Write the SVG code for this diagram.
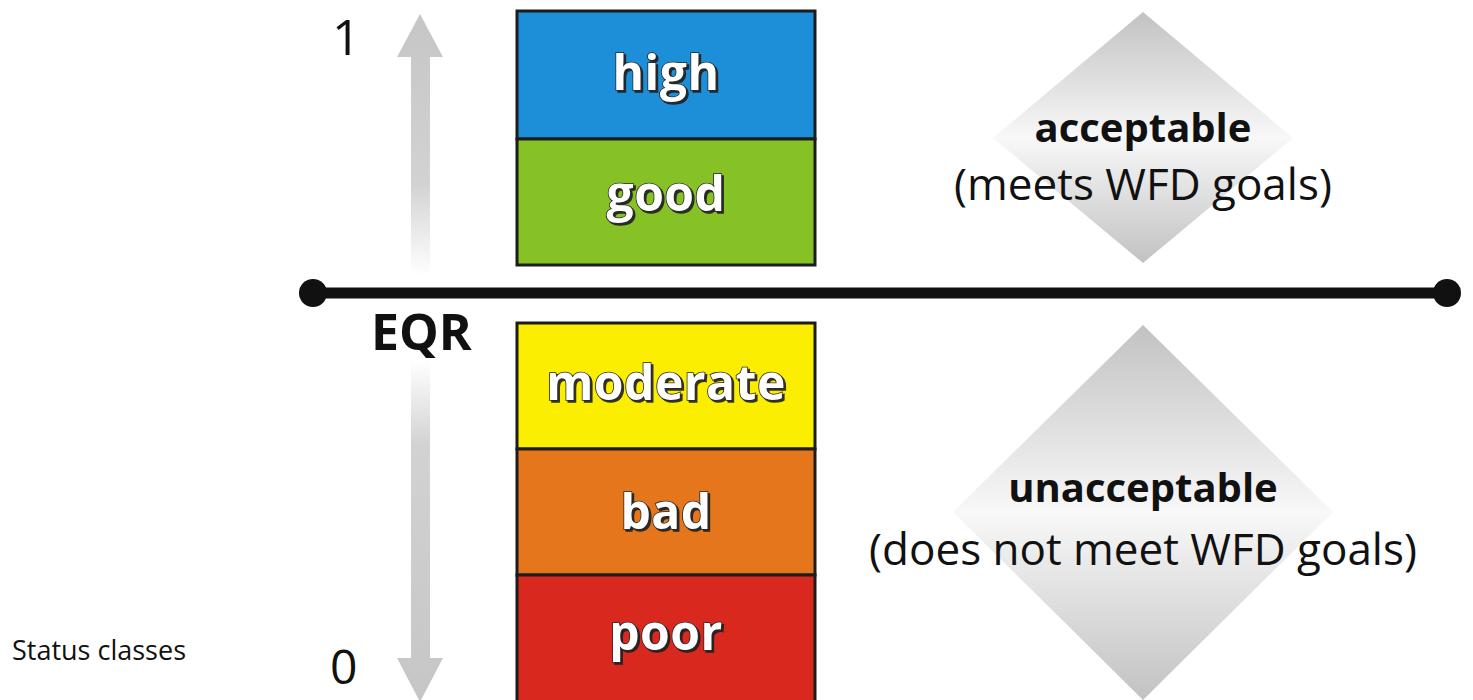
<svg xmlns="http://www.w3.org/2000/svg" width="1473" height="700" viewBox="0 0 1473 700">
<defs>
<style>
.box{stroke:#1c1c1c;stroke-width:3}
.lbl{font-family:"Open Sans","Liberation Sans",sans-serif;font-weight:700;font-size:48px;letter-spacing:0.5px;fill:#ffffff;stroke:#2a2a2a;stroke-width:1.6;paint-order:stroke;text-anchor:middle;filter:url(#sh)}
.ax{font-family:"Open Sans","Liberation Sans",sans-serif;fill:#111;font-size:50px}
.t1{font-family:"Open Sans","Liberation Sans",sans-serif;font-weight:700;font-size:40px;fill:#111;text-anchor:middle}
.t2{font-family:"Open Sans","Liberation Sans",sans-serif;font-size:44px;fill:#111;text-anchor:middle}
</style>
<filter id="sh" x="-20%" y="-30%" width="140%" height="160%">
<feDropShadow dx="2" dy="2" stdDeviation="0.6" flood-color="#1a1a1a" flood-opacity="0.9"/>
</filter>
<linearGradient id="dg" x1="0" y1="0" x2="0" y2="1">
<stop offset="0" stop-color="#c2c2c2"/>
<stop offset="0.5" stop-color="#f8f8f8"/>
<stop offset="1" stop-color="#c2c2c2"/>
</linearGradient>
<linearGradient id="upg" x1="0" y1="0" x2="0" y2="1">
<stop offset="0" stop-color="#c6c6c6"/>
<stop offset="0.65" stop-color="#d2d2d2"/>
<stop offset="1" stop-color="#ffffff"/>
</linearGradient>
<linearGradient id="dng" x1="0" y1="0" x2="0" y2="1">
<stop offset="0" stop-color="#ffffff"/>
<stop offset="0.25" stop-color="#d2d2d2"/>
<stop offset="1" stop-color="#c6c6c6"/>
</linearGradient>
</defs>
<rect width="1473" height="700" fill="#ffffff"/>

<g id="acceptable-zone">
<polygon points="1143,12 1293,138 1143,263 993,138" fill="url(#dg)"/>
<text class="t1" x="1143" y="142">acceptable</text>
<text class="t2" x="1143" y="200">(meets WFD goals)</text>
</g>
<g id="unacceptable-zone">
<polygon points="1143,325 1333,512 1143,700 953,512" fill="url(#dg)"/>
<text class="t1" x="1143" y="502">unacceptable</text>
<text class="t2" x="1143" y="565">(does not meet WFD goals)</text>
</g>

<g id="eqr-axis">
<path d="M411,57 L397,57 L420,14 L443,57 L430,57 L430,275 L411,275 Z" fill="url(#upg)"/>
<path d="M411,360 L430,360 L430,658 L443,658 L420,702 L397,658 L411,658 Z" fill="url(#dng)"/>
<text class="ax" x="332" y="55">1</text>
<text class="ax" x="330" y="684" style="font-size:48px">0</text>
<text class="ax" x="371" y="350" style="font-weight:700">EQR</text>
</g>

<g id="connectors">
<line x1="313" y1="293" x2="1447" y2="293" stroke="#111" stroke-width="11"/>
<circle cx="313" cy="293" r="14" fill="#111"/>
<circle cx="1447" cy="293" r="14" fill="#111"/>
</g>

<g id="high">
<rect class="box" x="517" y="11" width="298" height="128" fill="#1d8fd9"/>
<text class="lbl" x="666" y="90">high</text>
</g>
<g id="good">
<rect class="box" x="517" y="139" width="298" height="126" fill="#86c226"/>
<text class="lbl" x="666" y="211">good</text>
</g>
<g id="moderate">
<rect class="box" x="517" y="323" width="298" height="126" fill="#fbee00"/>
<text class="lbl" x="666" y="400">moderate</text>
</g>
<g id="bad">
<rect class="box" x="517" y="449" width="298" height="126" fill="#e6761c"/>
<text class="lbl" x="666" y="529">bad</text>
</g>
<g id="poor">
<rect class="box" x="517" y="575" width="298" height="130" fill="#d9291f"/>
<text class="lbl" x="666" y="650">poor</text>
</g>

<text x="12" y="660" style="font-family:'Open Sans','Liberation Sans',sans-serif;font-size:27px;fill:#111">Status classes</text>
</svg>
